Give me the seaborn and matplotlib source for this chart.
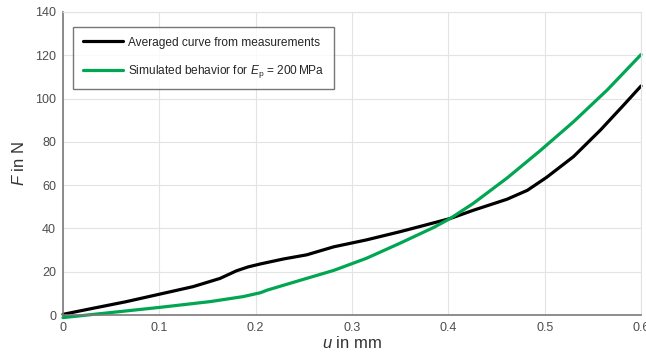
import numpy as np
import pandas as pd
import matplotlib
matplotlib.use("Agg")
import matplotlib.pyplot as plt
import seaborn as sns

u_measured = [0.0, 0.03, 0.065, 0.1, 0.135, 0.163, 0.18, 0.192, 0.205, 0.229,
              0.253, 0.281, 0.315, 0.35, 0.374, 0.402, 0.426, 0.461, 0.482,
              0.502, 0.53, 0.558, 0.582, 0.6]
F_measured = [0.3, 3.0, 6.1, 9.6, 13.1, 16.9, 20.4, 22.2, 23.6, 25.9,
              27.8, 31.5, 34.7, 38.5, 41.3, 44.6, 48.4, 53.5, 57.6,
              63.6, 73.2, 85.5, 97.0, 105.8]
u_simulated = [0.0, 0.049, 0.1, 0.153, 0.187, 0.205, 0.212, 0.246, 0.281,
               0.315, 0.35, 0.385, 0.402, 0.426, 0.461, 0.495, 0.53, 0.565, 0.6]
F_simulated = [-1.2, 1.1, 3.5, 6.2, 8.5, 10.3, 11.5, 16.0, 20.6,
               26.2, 33.2, 40.5, 44.6, 51.6, 63.3, 75.8, 89.3, 104.0, 120.3]
series_names = ["Averaged curve from measurements",
                r"Simulated behavior for $E_{\rm p}$ = 200$\,$MPa"]
x_ticks = [0, 0.1, 0.2, 0.3, 0.4, 0.5, 0.6]
x_tick_labels = ["0", "0.1", "0.2", "0.3", "0.4", "0.5", "0.6"]
y_ticks = [0, 20, 40, 60, 80, 100, 120, 140]

df = pd.concat([
    pd.DataFrame({"u": u_measured, "F": F_measured, "series": series_names[0]}),
    pd.DataFrame({"u": u_simulated, "F": F_simulated, "series": series_names[1]}),
])

sns.set_theme(style="white")
plt.rcParams['font.family'] = ['Liberation Sans', 'DejaVu Sans']
plt.rcParams['mathtext.fontset'] = 'custom'
plt.rcParams['mathtext.rm'] = 'Liberation Sans'
plt.rcParams['mathtext.it'] = 'Liberation Sans:italic'

fig = plt.figure(figsize=(6.46, 3.61), dpi=100)
ax = fig.add_axes([63/646, 1-315/361, (641-63)/646, (315-12)/361])

sns.lineplot(data=df, x="u", y="F", hue="series",
             palette={series_names[0]: "#000000", series_names[1]: "#00a651"},
             linewidth=2.3, ax=ax, sort=False, estimator=None)
for line in ax.get_lines():
    line.set_clip_on(False)
    line.set_solid_joinstyle("round")

ax.set_xlim(0, 0.6)
ax.set_ylim(0, 140)
ax.set_xticks(x_ticks)
ax.set_xticklabels(x_tick_labels)
ax.set_yticks(y_ticks)
ax.grid(True, color="#e3e3e3", linewidth=0.8)
ax.set_axisbelow(True)
ax.tick_params(direction="in", length=4, width=0.8, colors="#4d4d4d",
               labelsize=9, labelcolor="#4d4d4d", pad=5)
for s in ["left", "bottom"]:
    ax.spines[s].set_color("#7a7a7a")
    ax.spines[s].set_linewidth(1.2)
for s in ["top", "right"]:
    ax.spines[s].set_color("#e3e3e3")
    ax.spines[s].set_linewidth(0.8)

ax.set_xlabel(r"$u$ in mm", fontsize=12, color="#333333", labelpad=1)
ax.set_ylabel(r"$F$ in N", fontsize=12, color="#333333", labelpad=6)

leg = ax.legend(loc="upper left", bbox_to_anchor=(10/578, 1-15/303),
                fontsize=8.6, frameon=True, fancybox=False, borderpad=0.8,
                handlelength=3.4, handletextpad=0.4, labelspacing=1.2,
                borderaxespad=0)
leg.get_frame().set_edgecolor("#555555")
leg.get_frame().set_linewidth(1.0)
for line in leg.get_lines():
    line.set_linewidth(2.3)
for t in leg.get_texts():
    t.set_color("#262626")

fig.savefig("out.png", dpi=100)
